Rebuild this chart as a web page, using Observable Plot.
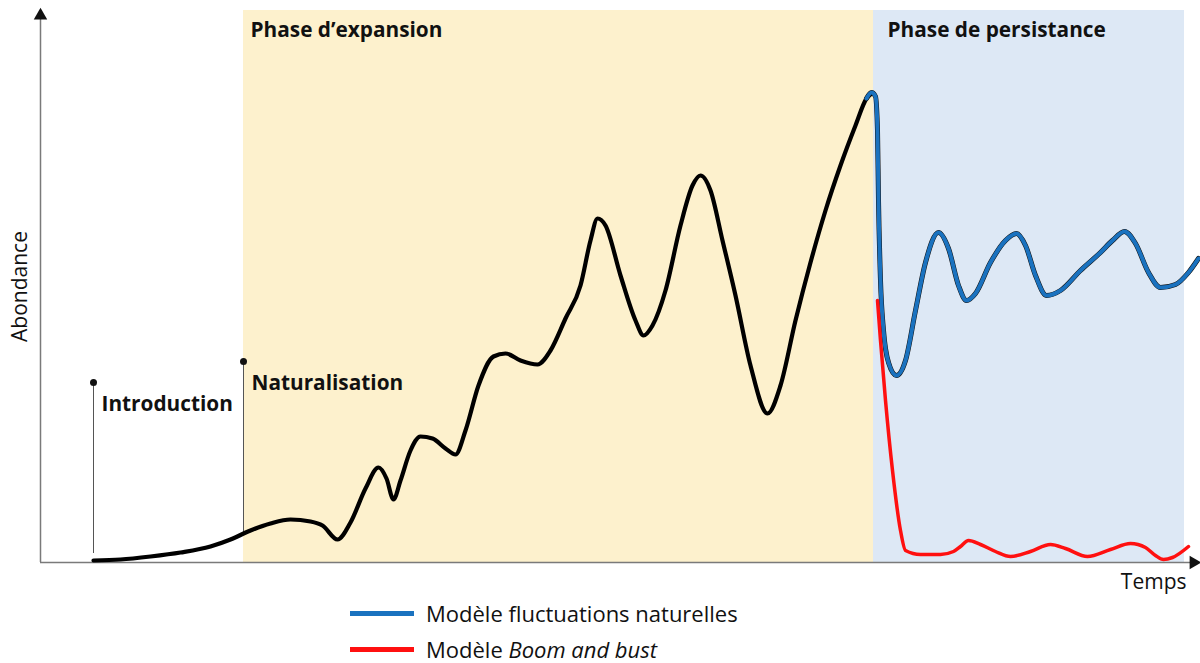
<!DOCTYPE html>
<html><head><meta charset="utf-8">
<script src="https://cdn.jsdelivr.net/npm/d3@7"></script>
<script src="https://cdn.jsdelivr.net/npm/@observablehq/plot@0.6"></script>
<style>
body{margin:0;background:#fff;font-family:"Open Sans",Lato,sans-serif;overflow:hidden;}
#legend{position:relative;height:63px;}
.row{position:absolute;left:350px;display:flex;align-items:center;font-size:22px;color:#111;line-height:1.1;}
.sw{width:64px;height:5px;margin-right:12px;}
</style></head><body>
<div id="chart"></div>
<div id="legend">
  <div class="row" style="top:1px"><div class="sw" style="background:#1a72bf"></div>Modèle fluctuations naturelles</div>
  <div class="row" style="top:37px"><div class="sw" style="background:#ff1010"></div>Modèle&nbsp;<i>Boom and bust</i></div>
</div>
<script>
// Time (arbitrary units) and abundance (arbitrary units)
const blackT = [93,120,150,180,210,230,250,270,290,310,322,337,350,365,378,386,393,400,410,420,432,445,455,465,478,493,505,520,537,550,565,580,590,597,605,620,635,643,652,665,680,692,700,710,722,735,750,767,780,795,810,825,840,855,866,871];
const blackA = [2,3,6,10,16,23,32,39,43,41,37,23,40,74,95,84,63,82,112,126,124,114,108,132,177,206,209,202,198,212,244,277,322,344,337,287,242,227,237,272,337,377,387,372,322,267,197,149,177,242,300,352,397,437,464,469];
const blueT = [866,871,875,877,878,880,883,888,896,905,915,925,938,948,958,966,975,990,1005,1016,1025,1035,1046,1060,1080,1100,1112,1124,1135,1148,1160,1175,1188,1198];
const blueA = [464,470,466,432,362,282,232,200,187,202,252,300,330,314,277,262,269,300,322,329,317,287,267,272,292,310,322,331,319,290,275,278,290,304];
const redT = [877,880,885,892,900,905,920,940,953,960,968,980,995,1010,1030,1050,1065,1087,1110,1130,1145,1155,1163,1172,1188];
const redA = [262,222,162,92,32,12,8,8,11,16,22,18,11,6,11,18,14,6,13,19,15,7,3,5,16];
const phases = [
  {name:"Phase d\u2019expansion", start:243, end:873, fill:"#fdf1cd", pad:7},
  {name:"Phase de persistance", start:873, end:1184, fill:"#dde8f5", pad:14}
];
const events = [{name:"Introduction", t:93, top:180, base:9, lab:158}, {name:"Naturalisation", t:243, top:201, base:29, lab:179}];

const black = blackT.map((t,i)=>({t, a:blackA[i]}));
const blue = blueT.map((t,i)=>({t, a:blueA[i]}));
const red = redT.map((t,i)=>({t, a:redA[i]}));
const yTop = 552;
const axisColor = "#7a7a7a";
const font = "'Open Sans', Lato, sans-serif";

const chart = Plot.plot({
  width:1200, height:600,
  marginLeft:40, marginRight:0, marginTop:10, marginBottom:38,
  x:{domain:[40,1200], axis:null},
  y:{domain:[0,yTop], axis:null},
  style:{fontFamily:font, background:"#fff"},
  marks:[
    Plot.rectY(phases, {x1:"start", x2:"end", y1:0, y2:yTop, fill:"fill"}),
    Plot.text(phases, {x:d=>d.start+d.pad, y:532, text:"name", textAnchor:"start", fontWeight:"bold", fontSize:20.8, fill:"#111"}),
    Plot.ruleX(events, {x:"t", y1:"base", y2:"top", stroke:"#555", strokeWidth:1}),
    Plot.dot(events, {x:"t", y:"top", r:3.5, fill:"#111", stroke:null}),
    Plot.text(events, {x:d=>d.t+8, y:"lab", text:"name", textAnchor:"start", fontWeight:"bold", fontSize:20.8, fill:"#111"}),
    // axes
    Plot.ruleX([40], {y1:0, y2:yTop-6, stroke:axisColor, strokeWidth:1.5}),
    Plot.ruleY([0], {x1:40, x2:1192, stroke:axisColor, strokeWidth:1.5}),
    Plot.dot([{t:40, a:yTop-5}], {x:"t", y:"a", symbol:"triangle", r:5, fill:"#111", stroke:null}),
    Plot.dot([{t:1193, a:0}], {x:"t", y:"a", symbol:"triangle", r:5, fill:"#111", stroke:null, rotate:90}),
    Plot.text(["Abondance"], {x:20, y:276, text:d=>d, rotate:-90, fontSize:21, fill:"#111"}),
    Plot.text(["Temps"], {x:1186, y:-20, text:d=>d, textAnchor:"end", fontSize:21, fill:"#111"}),
    // curves
    Plot.line(black, {x:"t", y:"a", curve:"monotone-x", stroke:"#000", strokeWidth:4.2}),
    Plot.line(blue, {x:"t", y:"a", curve:"monotone-x", stroke:"#111", strokeWidth:5}),
    Plot.line(blue, {x:"t", y:"a", curve:"monotone-x", stroke:"#1a72bf", strokeWidth:4}),
    Plot.line(red, {x:"t", y:"a", curve:"monotone-x", stroke:"#ff1010", strokeWidth:3.5})
  ]
});
document.getElementById("chart").appendChild(chart);
</script>
</body></html>
